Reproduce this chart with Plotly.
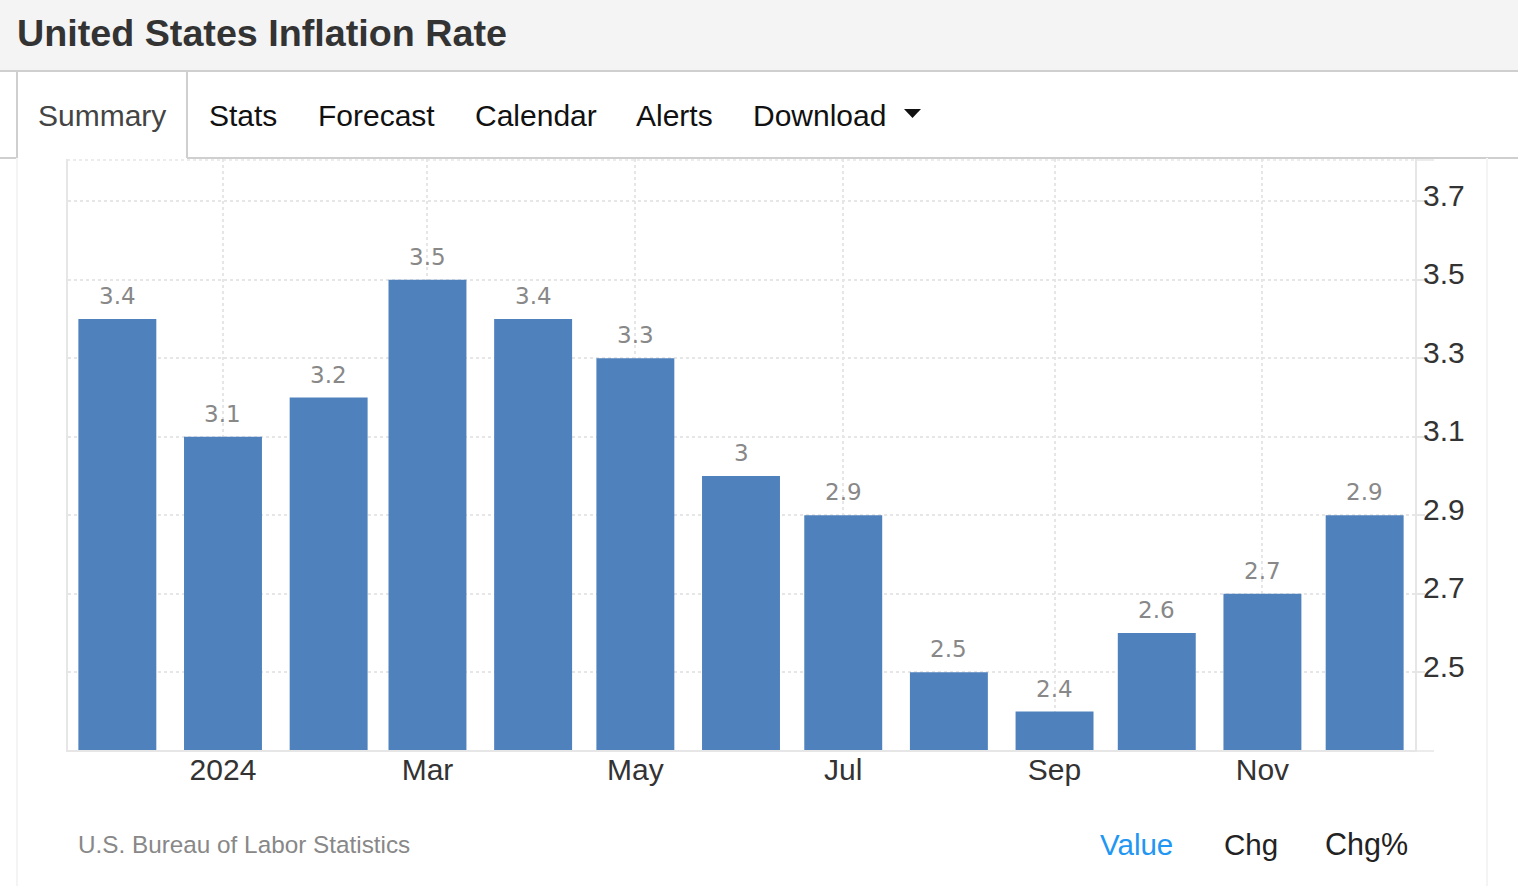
import plotly.graph_objects as go

months = ["2023-12-01", "2024-01-01", "2024-02-01", "2024-03-01", "2024-04-01", "2024-05-01", "2024-06-01",
          "2024-07-01", "2024-08-01", "2024-09-01", "2024-10-01", "2024-11-01", "2024-12-01"]
inflation = [3.4, 3.1, 3.2, 3.5, 3.4, 3.3, 3.0, 2.9, 2.5, 2.4, 2.6, 2.7, 2.9]
x_tick_vals = ["2024-01-01", "2024-03-01", "2024-05-01", "2024-07-01", "2024-09-01", "2024-11-01"]
x_tick_text = ["2024", "Mar", "May", "Jul", "Sep", "Nov"]
y_tick_vals = [2.5, 2.7, 2.9, 3.1, 3.3, 3.5, 3.7]
y_tick_text = ["2.5", "2.7", "2.9", "3.1", "3.3", "3.5", "3.7"]
tabs = ["Stats", "Forecast", "Calendar", "Alerts", "Download"]

W, H = 1518, 886
L, R, T, B = 68, 103, 159, 136
FONT = "Liberation Sans"
GRID = "#e6e6e6"
BORDER = "#cfcfcf"

# page pixels -> paper coords, the header and footer live outside the plot area
def px(x):
    return (x - L) / (W - L - R)

def py(y):
    return 1 - (y - T) / (H - T - B)

def line(x0, y0, x1, y1, color=BORDER, width=2, dash="solid"):
    return dict(type="line", xref="paper", yref="paper", x0=px(x0), y0=py(y0), x1=px(x1), y1=py(y1),
                line=dict(color=color, width=width, dash=dash), layer="below")

def label(text, x, y, size, color, bold=False, anchor="left"):
    if bold:
        text = "<b>" + text + "</b>"
    return dict(text=text, xref="paper", yref="paper", x=px(x), y=py(y), xanchor=anchor, yanchor="middle",
                showarrow=False, font=dict(family=FONT, size=size, color=color))

fig = go.Figure()
fig.add_trace(go.Bar(x=months, y=inflation, width=1.976e9, marker=dict(color="#4f81bd", line=dict(width=0)),
                     hoverinfo="skip"))

shapes = [
    dict(type="rect", xref="paper", yref="paper", x0=px(0), y0=py(0), x1=px(W), y1=py(71),
         fillcolor="#f4f4f4", line=dict(width=0), layer="below"),
    line(0, 71, W, 71),
    line(0, 158, 17, 158),
    line(187, 158, W, 158),
    line(17, 71, 17, 158),
    line(187, 71, 187, 158),
    line(17, 158, 17, H, color="#f4f4f4"),
    line(1487, 158, 1487, H, color="#f4f4f4"),
    line(67, 160, 1416, 160, color=GRID, width=1.5, dash="dot"),
    line(1416, 160, 1434, 160, color=GRID, width=1.5),
    line(1416, 751, 1434, 751, color=GRID, width=1.5),
    dict(type="path", xref="paper", yref="paper", layer="above", fillcolor="#111111", line=dict(width=0),
         path="M %f %f L %f %f L %f %f Z" % (px(904), py(109), px(921), py(109), px(912.5), py(118))),
]

annotations = [
    label("United States Inflation Rate", 15, 33, 37.7, "#333333", bold=True),
    label("Summary", 36, 115, 30, "#444444"),
    label("U.S. Bureau of Labor Statistics", 76, 844.5, 24.3, "#888888"),
    label("Value", 1098, 844, 29.5, "#2196f3"),
    label("Chg", 1222, 844, 29.5, "#222222"),
    label("Chg%", 1323, 844, 30.5, "#222222"),
]
for name, x in zip(tabs, [207, 316, 473, 634, 751]):
    annotations.append(label(name, x, 115, 30, "#111111"))

# value labels sit above the bars
for m, v in zip(months, inflation):
    annotations.append(dict(text="%g" % v, x=m, y=v, xref="x", yref="y", xanchor="center", yanchor="bottom",
                            yshift=8, showarrow=False,
                            font=dict(family="DejaVu Sans", size=23, color="#888888")))

fig.update_layout(
    width=W, height=H,
    margin=dict(l=L, r=R, t=T, b=B, pad=0),
    paper_bgcolor="white", plot_bgcolor="white",
    showlegend=False,
    shapes=shapes,
    annotations=annotations,
    font=dict(family=FONT, color="#333333"),
)
fig.update_xaxes(
    type="date", range=["2023-11-16 12:30", "2024-12-15 18:30"],
    tickmode="array", tickvals=x_tick_vals, ticktext=x_tick_text,
    tickfont=dict(family=FONT, size=30, color="#333333"), ticks="", ticklabelstandoff=-8,
    showgrid=True, gridcolor=GRID, griddash="dot", gridwidth=1.5,
    showline=True, linecolor=GRID, linewidth=2, zeroline=False,
)
fig.update_yaxes(
    side="right", range=[2.302, 3.808],
    tickmode="array", tickvals=y_tick_vals, ticktext=y_tick_text,
    tickfont=dict(family=FONT, size=30, color="#333333"),
    ticks="outside", ticklen=8, tickcolor=GRID, tickwidth=1.5, ticklabelstandoff=-8, ticklabelshift=-6,
    showgrid=True, gridcolor=GRID, griddash="dot", gridwidth=1.5,
    showline=True, linecolor=GRID, linewidth=2, mirror=True, zeroline=False,
)

fig.write_html("out.html", config=dict(displayModeBar=False), post_script="document.body.style.margin='0';")
